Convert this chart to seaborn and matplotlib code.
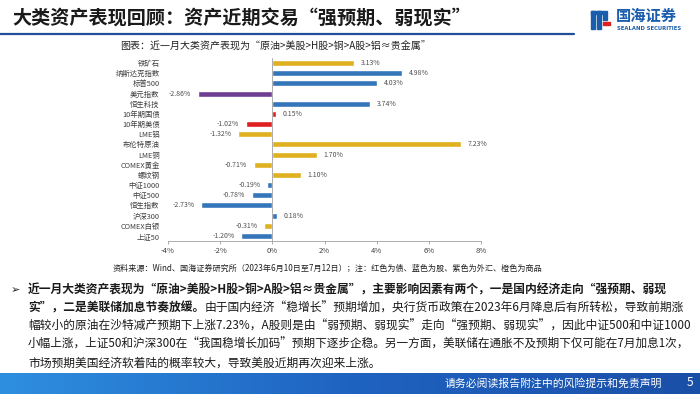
import matplotlib
matplotlib.use("Agg")
import matplotlib.pyplot as plt
import matplotlib.patches as mpatches
import numpy as np
import pandas as pd
import seaborn as sns

# data
assets = ["铁矿石", "纳斯达克指数", "标普500", "美元指数", "恒生科技", "10年期国债", "10年期美债",
          "LME铝", "布伦特原油", "LME铜", "COMEX黄金", "螺纹钢", "中证1000", "中证500",
          "恒生指数", "沪深300", "COMEX白银", "上证50"]
returns = [3.13, 4.98, 4.03, -2.86, 3.74, 0.15, -1.02, -1.32, 7.23, 1.70, -0.71, 1.10,
           -0.19, -0.78, -2.73, 0.18, -0.31, -1.20]
kinds = ["商品", "股", "股", "外汇", "股", "债", "债", "商品", "商品", "商品", "商品", "商品",
         "股", "股", "股", "股", "商品", "股"]
xticks = [-4, -2, 0, 2, 4, 6, 8]

colors = {"债": "#FF0000", "股": "#1F74D0", "外汇": "#7030A0", "商品": "#FFC000"}

sns.set_style("white")
plt.rcParams["font.family"] = ["Noto Sans CJK SC", "DejaVu Sans"]

W, H = 700, 394
fig = plt.figure(figsize=(7, 3.94), dpi=100)
renderer = fig.canvas.get_renderer()


def px(x, y):
    return x / W, 1 - y / H


def fit_text(x, y, s, right, fs=9.3, **kw):
    # shrink the font so the line ends at pixel x = right
    t = fig.text(*px(x, y), s, fontsize=fs, va="center", ha="left", **kw)
    w = t.get_window_extent(renderer).width
    t.set_fontsize(fs * (right - x) / w)
    return t


df = pd.DataFrame({"asset": assets, "ret": returns, "kind": kinds})

# chart
ax = fig.add_axes([168 / W, 1 - 241 / H, 313 / W, 183 / H])
sns.barplot(data=df, x="ret", y="asset", hue="kind", palette=colors, dodge=False,
            legend=False, width=0.6, ax=ax, orient="h")
ax.set_xlim(-4, 8)
ax.set_ylim(len(assets) - 0.5, -0.5)
ax.set_xticks(xticks)
ax.set_xticklabels([f"{t}%" for t in xticks], fontsize=5.5, color="#404040")
ax.tick_params(axis="y", labelsize=5.3, colors="#404040", length=0, pad=6)
ax.tick_params(axis="x", length=2.5, width=0.6, color="#A0A0A0", pad=2, bottom=True)
ax.set_xlabel("")
ax.set_ylabel("")
for s in ["top", "right", "left"]:
    ax.spines[s].set_visible(False)
ax.spines["bottom"].set_color("#A0A0A0")
ax.spines["bottom"].set_linewidth(0.6)
ax.axvline(0, color="#A0A0A0", lw=0.6)
for i, v in enumerate(returns):
    if v >= 0:
        ax.text(v + 0.25, i, f"{v:.2f}%", va="center", ha="left", fontsize=5, color="#505050")
    else:
        ax.text(v - 0.25, i, f"{v:.2f}%", va="center", ha="right", fontsize=5, color="#505050")

# header
fit_text(12, 19, "大类资产表现回顾：资产近期交易“强预期、弱现实”", 470, fs=13.5,
         fontweight="bold", color="#1A1A1A")
fig.add_artist(plt.Line2D([0, 574 / W], [1 - 34 / H, 1 - 34 / H], color="#1F4E9A", lw=1.6))

# logo
logo_blue = "#1A5DAD"
for (x0, y0, w, h, c) in [(591, 11, 4, 18, logo_blue), (597, 11, 4, 18, logo_blue),
                          (603, 11, 4, 9, logo_blue), (603, 22, 7, 3, "#E02020"),
                          (591, 11, 12, 3, logo_blue)]:
    fig.add_artist(mpatches.Rectangle((x0 / W, 1 - (y0 + h) / H), w / W, h / H,
                                      color=c, transform=fig.transFigure))
fig.text(*px(616, 16), "国海证券", fontsize=11, color=logo_blue, va="center", ha="left",
         fontweight="bold")
fig.text(*px(617, 28), "SEALAND SECURITIES", fontsize=3.8, color=logo_blue, va="center",
         ha="left", fontweight="bold", family=["DejaVu Sans"])

# chart title and source
fit_text(120, 47, "图表：近一月大类资产表现为“原油>美股>H股>铜>A股>铝≈贵金属”", 430, fs=7,
         color="#202020")
fit_text(113, 268, "资料来源：Wind、国海证券研究所（2023年6月10日至7月12日）；注：红色为债、蓝色为股、紫色为外汇、橙色为商品",
         540, fs=5.6, color="#202020")

# body text
fig.text(*px(11, 290), "➢", fontsize=8, color="#202020", va="center", ha="left",
         family=["DejaVu Sans"])
x0 = 28
fit_text(x0, 290, "近一月大类资产表现为“原油>美股>H股>铜>A股>铝≈贵金属”，主要影响因素有两个，一是国内经济走向“强预期、弱现",
         666, fontweight="bold", color="#1A1A1A")

# line 2: bold start, normal rest, both at one size
part1 = "实”，二是美联储加息节奏放缓。"
part2 = "由于国内经济“稳增长”预期增加，央行货币政策在2023年6月降息后有所转松，导致前期涨"
t1 = fig.text(*px(x0, 308), part1, fontsize=9.3, fontweight="bold", color="#1A1A1A",
              va="center", ha="left")
t2 = fig.text(*px(x0, 308), part2, fontsize=9.3, color="#1A1A1A", va="center", ha="left")
w_all = t1.get_window_extent(renderer).width + t2.get_window_extent(renderer).width
fs2 = 9.3 * (684 - x0) / w_all
t1.set_fontsize(fs2)
t2.set_fontsize(fs2)
bb = t1.get_window_extent(renderer)
t2.set_x(bb.x1 / fig.bbox.width)

lines = ["幅较小的原油在沙特减产预期下上涨7.23%，A股则是由“弱预期、弱现实”走向“强预期、弱现实”，因此中证500和中证1000",
         "小幅上涨，上证50和沪深300在“我国稳增长加码”预期下逐步企稳。另一方面，美联储在通胀不及预期下仅可能在7月加息1次，"]
for k, ln in enumerate(lines):
    fit_text(x0, 326 + 18.3 * k, ln, 688, color="#1A1A1A")
fig.text(*px(x0, 363), "市场预期美国经济软着陆的概率较大，导致美股近期再次迎来上涨。",
         fontsize=fs2, color="#1A1A1A", va="center", ha="left")

# footer band
grad = np.linspace(0, 1, 256).reshape(1, -1)
fax = fig.add_axes([0, 0, 1, 21 / H])
fax.imshow(grad, aspect="auto", cmap=matplotlib.colors.LinearSegmentedColormap.from_list(
    "band", ["#2E8FE0", "#1F63C0", "#1A4FA8"]), extent=[0, 1, 0, 1])
fax.set_axis_off()
fig.text(*px(662, 383), "请务必阅读报告附注中的风险提示和免责声明", fontsize=7.8, color="white",
         va="center", ha="right")
fig.text(*px(690, 383), "5", fontsize=8.5, color="white", va="center", ha="center")

fig.savefig("out.png", dpi=100)
